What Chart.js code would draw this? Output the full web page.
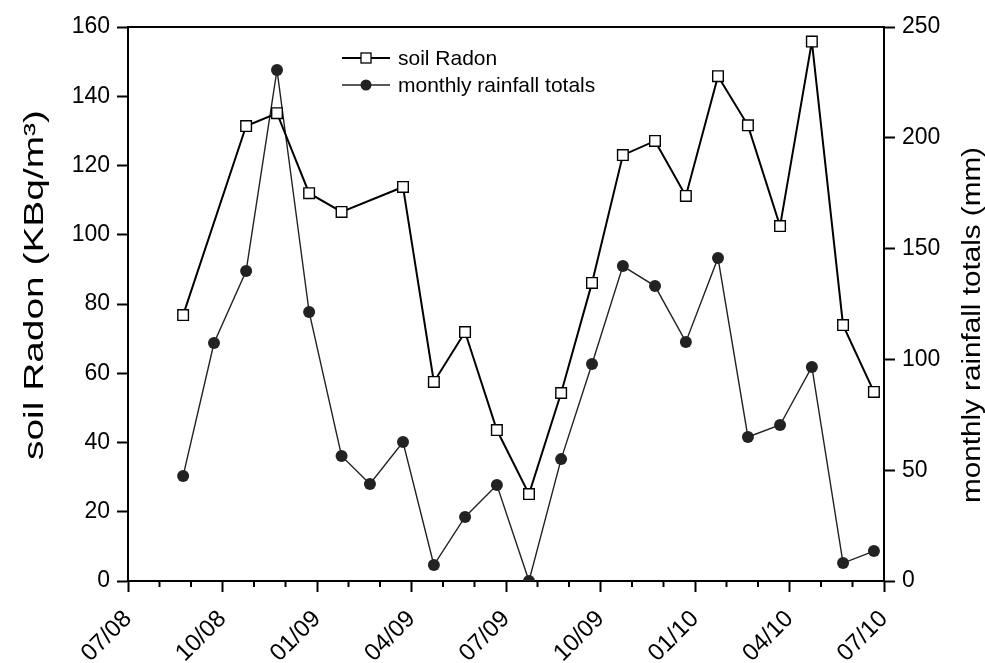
<!DOCTYPE html>
<html><head><meta charset="utf-8">
<script src="https://cdn.jsdelivr.net/npm/chart.js@4/dist/chart.umd.min.js"></script>
<style>html,body{margin:0;padding:0;background:#fff}#wrap{width:985px;height:663px}</style>
</head><body><div id="wrap"><canvas id="c" width="985" height="663"></canvas></div>
<script>
// months elapsed since 07/2008 for each monthly sample
const sampleMonth = [1.75, 2.73, 3.75, 4.73, 5.75, 6.78, 7.68, 8.73, 9.71, 10.70, 11.71, 12.73, 13.75, 14.73, 15.71, 16.73, 17.71, 18.73, 19.68, 20.70, 21.71, 22.70, 23.68];
// soil Radon (KBq/m3), null = no measurement
const soilRadon = [76.8, null, 131.4, 135.1, 112.0, 106.6, null, 113.8, 57.5, 71.9, 43.6, 25.1, 54.3, 86.1, 123.0, 127.1, 111.2, 145.8, 131.6, 102.5, 155.8, 73.9, 54.6];
// monthly rainfall totals (mm)
const rainfall = [47.4, 107.4, 139.9, 230.6, 121.4, 56.4, 43.8, 62.7, 7.2, 28.9, 43.3, 0.0, 55.0, 97.9, 142.1, 133.1, 107.9, 145.8, 65.0, 70.4, 96.6, 8.1, 13.5];
// x tick labels every 3 months from 07/08
const xTickLabels = ['07/08', '10/08', '01/09', '04/09', '07/09', '10/09', '01/10', '04/10', '07/10'];
const seriesNames = ['soil Radon', 'monthly rainfall totals'];
const leftTitle = 'soil Radon (KBq/m\u00B3)';
const rightTitle = 'monthly rainfall totals (mm)';

const FONT = "'Liberation Sans', Arial, sans-serif";
const radonPts = sampleMonth.map((m, i) => ({x: m, y: soilRadon[i]}));
const rainPts = sampleMonth.map((m, i) => ({x: m, y: rainfall[i]}));

function drawStretched(ctx, text, x, y, font, len) {
  ctx.save();
  ctx.font = font;
  ctx.translate(x, y);
  ctx.rotate(-Math.PI / 2);
  const w = ctx.measureText(text).width;
  ctx.scale(len / w, 1);
  ctx.textAlign = 'center';
  ctx.textBaseline = 'alphabetic';
  ctx.fillStyle = '#000';
  ctx.fillText(text, 0, 0);
  ctx.restore();
}

const decor = {
  id: 'decor',
  afterDraw(chart) {
    const {ctx, chartArea: a, scales} = chart;
    const xs = scales.x;
    ctx.save();
    ctx.strokeStyle = '#000';
    ctx.lineWidth = 2;
    ctx.beginPath(); ctx.moveTo(a.left - 1, a.top); ctx.lineTo(a.right + 1, a.top); ctx.stroke();
    for (let v = xs.min; v <= xs.max; v++) {
      if (v % 3 === 0) continue;
      const px = xs.getPixelForValue(v);
      ctx.beginPath(); ctx.moveTo(px, a.bottom); ctx.lineTo(px, a.bottom + 6); ctx.stroke();
    }
    // axis titles
    drawStretched(ctx, leftTitle, 43, 285, '28px ' + FONT, 350);
    drawStretched(ctx, rightTitle, 980, 325, '25px ' + FONT, 356);
    // legend
    const lx0 = 342, lx1 = 390, mx = 366, tx = 398;
    const ys = [58, 85];
    ctx.font = '21px ' + FONT;
    ctx.textBaseline = 'middle';
    ctx.textAlign = 'left';
    // row 1
    ctx.strokeStyle = '#000'; ctx.lineWidth = 2;
    ctx.beginPath(); ctx.moveTo(lx0, ys[0]); ctx.lineTo(lx1, ys[0]); ctx.stroke();
    ctx.fillStyle = '#fff'; ctx.fillRect(mx - 5, ys[0] - 5, 10, 10);
    ctx.lineWidth = 1.3; ctx.strokeRect(mx - 5, ys[0] - 5, 10, 10);
    ctx.fillStyle = '#000'; ctx.fillText(seriesNames[0], tx, ys[0] + 1);
    // row 2
    ctx.strokeStyle = '#222'; ctx.lineWidth = 1.4;
    ctx.beginPath(); ctx.moveTo(lx0, ys[1]); ctx.lineTo(lx1, ys[1]); ctx.stroke();
    ctx.fillStyle = '#222'; ctx.beginPath(); ctx.arc(mx, ys[1], 5.5, 0, Math.PI * 2); ctx.fill();
    ctx.fillStyle = '#000'; ctx.fillText(seriesNames[1], tx, ys[1] + 1);
    ctx.restore();
  }
};

new Chart(document.getElementById('c'), {
  type: 'line',
  data: {
    datasets: [
      {
        label: seriesNames[0], data: radonPts, yAxisID: 'y', spanGaps: true,
        borderColor: '#000', borderWidth: 2, tension: 0,
        pointStyle: 'rect', pointRadius: 7.5, pointBorderWidth: 1.4,
        pointBackgroundColor: '#fff', pointBorderColor: '#000'
      },
      {
        label: seriesNames[1], data: rainPts, yAxisID: 'y1',
        borderColor: '#222', borderWidth: 1.4, tension: 0, clip: 0,
        pointStyle: 'circle', pointRadius: 6, pointBorderWidth: 0,
        pointBackgroundColor: '#222', pointBorderColor: '#222'
      }
    ]
  },
  options: {
    responsive: false, animation: false, devicePixelRatio: 1,
    layout: {padding: {top: 27, left: 0, right: 0, bottom: 0}},
    plugins: {legend: {display: false}, tooltip: {enabled: false}},
    scales: {
      x: {
        type: 'linear', min: 0, max: 24,
        afterFit(s) { s.height = 82; },
        border: {display: true, color: '#000', width: 2},
        grid: {drawOnChartArea: false, drawTicks: true, tickLength: 11, tickWidth: 2,
               tickColor: c => (c.tick && c.tick.value % 3 === 0) ? '#000' : 'rgba(0,0,0,0)'},
        ticks: {
          stepSize: 1, autoSkip: false, minRotation: 45, maxRotation: 45, padding: 13,
          color: '#000', font: {family: FONT, size: 24},
          callback: v => (v % 3 === 0) ? xTickLabels[v / 3] : ''
        }
      },
      y: {
        position: 'left', min: 0, max: 160,
        afterFit(s) { s.width = 128; },
        border: {display: true, color: '#000', width: 2},
        grid: {drawOnChartArea: false, drawTicks: true, tickLength: 11, tickWidth: 2, tickColor: '#000'},
        ticks: {stepSize: 20, padding: 7, color: '#000', font: {family: FONT, size: 23}}
      },
      y1: {
        position: 'right', min: 0, max: 250,
        afterFit(s) { s.width = 101; },
        border: {display: true, color: '#000', width: 2},
        grid: {drawOnChartArea: false, drawTicks: true, tickLength: 11, tickWidth: 2, tickColor: '#000'},
        ticks: {stepSize: 50, padding: 7, color: '#000', font: {family: FONT, size: 23}}
      }
    }
  },
  plugins: [decor]
});
</script>
</body></html>
